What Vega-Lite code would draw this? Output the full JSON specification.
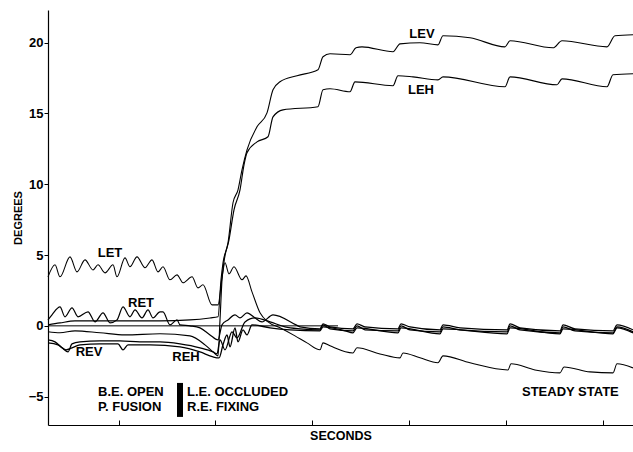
{
  "$schema": "https://vega.github.io/schema/vega-lite/v6.json",
  "width": 585,
  "height": 415,
  "autosize": {"type": "none"},
  "padding": {"left": 48, "top": 10, "right": 0, "bottom": 27},
  "background": "white",
  "config": {"view": {"stroke": null}, "font": "Liberation Sans"},
  "datasets": {
    "traces": [
      {"s":"ZERO","t":0,"deg":0},{"s":"ZERO","t":290,"deg":0},

      {"s":"LET","t":0,"deg":3.46},{"s":"LET","t":7,"deg":4.31},{"s":"LET","t":12,"deg":3.46},{"s":"LET","t":22,"deg":4.87},{"s":"LET","t":29,"deg":3.81},{"s":"LET","t":37,"deg":4.66},{"s":"LET","t":45,"deg":3.95},{"s":"LET","t":50,"deg":4.31},{"s":"LET","t":57,"deg":3.74},{"s":"LET","t":65,"deg":4.31},{"s":"LET","t":69,"deg":3.46},{"s":"LET","t":77,"deg":4.80},{"s":"LET","t":82,"deg":4.17},{"s":"LET","t":89,"deg":4.87},{"s":"LET","t":97,"deg":4.10},{"s":"LET","t":104,"deg":4.66},{"s":"LET","t":110,"deg":3.81},{"s":"LET","t":115,"deg":4.17},{"s":"LET","t":122,"deg":3.25},{"s":"LET","t":129,"deg":3.60},{"s":"LET","t":135,"deg":3.04},{"s":"LET","t":144,"deg":3.46},{"s":"LET","t":150,"deg":2.68},{"s":"LET","t":155,"deg":2.90},{"s":"LET","t":164,"deg":1.48},{"s":"LET","t":170,"deg":1.48},{"s":"LET","t":174,"deg":3.39},{"s":"LET","t":177,"deg":4.45},{"s":"LET","t":181,"deg":3.67},{"s":"LET","t":186,"deg":4.17},{"s":"LET","t":194,"deg":3.25},{"s":"LET","t":198,"deg":3.53},{"s":"LET","t":204,"deg":2.40},{"s":"LET","t":212,"deg":0.92},{"s":"LET","t":220,"deg":0.28},{"s":"LET","t":232,"deg":-0.14},{"s":"LET","t":247,"deg":-0.71},{"s":"LET","t":259,"deg":-1.20},{"s":"LET","t":272,"deg":-1.69},{"s":"LET","t":275,"deg":-1.20},{"s":"LET","t":282,"deg":-1.41},{"s":"LET","t":305,"deg":-1.91},{"s":"LET","t":309,"deg":-1.55},{"s":"LET","t":332,"deg":-1.98},{"s":"LET","t":352,"deg":-2.26},{"s":"LET","t":355,"deg":-1.91},{"s":"LET","t":372,"deg":-2.26},{"s":"LET","t":390,"deg":-2.61},{"s":"LET","t":395,"deg":-2.12},{"s":"LET","t":422,"deg":-2.61},{"s":"LET","t":460,"deg":-3.11},{"s":"LET","t":463,"deg":-2.68},{"s":"LET","t":487,"deg":-3.11},{"s":"LET","t":512,"deg":-3.32},{"s":"LET","t":516,"deg":-2.90},{"s":"LET","t":542,"deg":-3.25},{"s":"LET","t":565,"deg":-3.32},{"s":"LET","t":569,"deg":-2.68},{"s":"LET","t":585,"deg":-2.97},

      {"s":"LEV","t":0,"deg":0.07},{"s":"LEV","t":12,"deg":0.21},{"s":"LEV","t":27,"deg":0.35},{"s":"LEV","t":52,"deg":0.35},{"s":"LEV","t":82,"deg":0.35},{"s":"LEV","t":112,"deg":0.35},{"s":"LEV","t":142,"deg":0.42},{"s":"LEV","t":162,"deg":0.56},{"s":"LEV","t":170,"deg":0.64},{"s":"LEV","t":173,"deg":3.25},{"s":"LEV","t":175,"deg":4.45},{"s":"LEV","t":180,"deg":5.86},{"s":"LEV","t":185,"deg":8.69},{"s":"LEV","t":190,"deg":9.60},{"s":"LEV","t":194,"deg":11.02},{"s":"LEV","t":199,"deg":12.43},{"s":"LEV","t":209,"deg":14.05},{"s":"LEV","t":219,"deg":15.04},{"s":"LEV","t":225,"deg":16.67},{"s":"LEV","t":232,"deg":17.23},{"s":"LEV","t":249,"deg":17.66},{"s":"LEV","t":270,"deg":18.08},{"s":"LEV","t":275,"deg":19.00},{"s":"LEV","t":282,"deg":19.21},{"s":"LEV","t":302,"deg":19.14},{"s":"LEV","t":308,"deg":19.63},{"s":"LEV","t":314,"deg":19.70},{"s":"LEV","t":345,"deg":19.35},{"s":"LEV","t":352,"deg":19.91},{"s":"LEV","t":372,"deg":19.99},{"s":"LEV","t":390,"deg":19.84},{"s":"LEV","t":395,"deg":20.48},{"s":"LEV","t":422,"deg":20.34},{"s":"LEV","t":457,"deg":19.70},{"s":"LEV","t":462,"deg":20.13},{"s":"LEV","t":505,"deg":19.63},{"s":"LEV","t":514,"deg":20.13},{"s":"LEV","t":559,"deg":19.70},{"s":"LEV","t":567,"deg":20.48},{"s":"LEV","t":585,"deg":20.55},

      {"s":"LEH","t":0,"deg":-0.42},{"s":"LEH","t":12,"deg":-0.49},{"s":"LEH","t":27,"deg":-0.35},{"s":"LEH","t":52,"deg":-0.49},{"s":"LEH","t":77,"deg":-0.64},{"s":"LEH","t":112,"deg":-0.56},{"s":"LEH","t":142,"deg":-0.71},{"s":"LEH","t":157,"deg":-1.34},{"s":"LEH","t":165,"deg":-1.84},{"s":"LEH","t":170,"deg":-2.12},{"s":"LEH","t":172,"deg":0.42},{"s":"LEH","t":174,"deg":3.25},{"s":"LEH","t":176,"deg":4.52},{"s":"LEH","t":181,"deg":6.07},{"s":"LEH","t":186,"deg":8.19},{"s":"LEH","t":192,"deg":9.60},{"s":"LEH","t":196,"deg":11.37},{"s":"LEH","t":199,"deg":12.22},{"s":"LEH","t":209,"deg":12.99},{"s":"LEH","t":220,"deg":13.35},{"s":"LEH","t":225,"deg":14.76},{"s":"LEH","t":235,"deg":15.25},{"s":"LEH","t":270,"deg":15.47},{"s":"LEH","t":275,"deg":16.67},{"s":"LEH","t":282,"deg":16.74},{"s":"LEH","t":302,"deg":16.53},{"s":"LEH","t":307,"deg":17.23},{"s":"LEH","t":345,"deg":16.95},{"s":"LEH","t":350,"deg":17.66},{"s":"LEH","t":365,"deg":17.58},{"s":"LEH","t":390,"deg":17.37},{"s":"LEH","t":395,"deg":17.58},{"s":"LEH","t":457,"deg":16.88},{"s":"LEH","t":462,"deg":17.58},{"s":"LEH","t":509,"deg":17.02},{"s":"LEH","t":514,"deg":17.44},{"s":"LEH","t":559,"deg":16.88},{"s":"LEH","t":565,"deg":17.73},{"s":"LEH","t":585,"deg":17.80},

      {"s":"RET","t":0,"deg":0.42},{"s":"RET","t":4,"deg":0.78},{"s":"RET","t":12,"deg":1.34},{"s":"RET","t":17,"deg":0.64},{"s":"RET","t":24,"deg":1.27},{"s":"RET","t":30,"deg":0.64},{"s":"RET","t":40,"deg":0.99},{"s":"RET","t":47,"deg":0.28},{"s":"RET","t":55,"deg":0.92},{"s":"RET","t":62,"deg":0.21},{"s":"RET","t":69,"deg":0.42},{"s":"RET","t":75,"deg":1.34},{"s":"RET","t":82,"deg":0.64},{"s":"RET","t":87,"deg":1.13},{"s":"RET","t":94,"deg":0.56},{"s":"RET","t":100,"deg":1.13},{"s":"RET","t":105,"deg":0.56},{"s":"RET","t":112,"deg":0.99},{"s":"RET","t":115,"deg":0.99},{"s":"RET","t":122,"deg":0.07},{"s":"RET","t":129,"deg":0.42},{"s":"RET","t":132,"deg":0.07},{"s":"RET","t":142,"deg":0},{"s":"RET","t":152,"deg":-0.14},{"s":"RET","t":162,"deg":-0.64},{"s":"RET","t":170,"deg":-0.99},{"s":"RET","t":174,"deg":0.07},{"s":"RET","t":180,"deg":0.42},{"s":"RET","t":187,"deg":0.78},{"s":"RET","t":192,"deg":0.56},{"s":"RET","t":199,"deg":0.92},{"s":"RET","t":207,"deg":0.56},{"s":"RET","t":214,"deg":0.28},{"s":"RET","t":225,"deg":0.78},{"s":"RET","t":248,"deg":0.07},{"s":"RET","t":252,"deg":-0.07},{"s":"RET","t":272,"deg":-0.21},{"s":"RET","t":275,"deg":0.14},{"s":"RET","t":282,"deg":-0.07},{"s":"RET","t":305,"deg":-0.21},{"s":"RET","t":309,"deg":0.14},{"s":"RET","t":317,"deg":-0.07},{"s":"RET","t":350,"deg":-0.21},{"s":"RET","t":353,"deg":0.14},{"s":"RET","t":362,"deg":-0.07},{"s":"RET","t":392,"deg":-0.28},{"s":"RET","t":395,"deg":0.07},{"s":"RET","t":412,"deg":-0.14},{"s":"RET","t":459,"deg":-0.28},{"s":"RET","t":462,"deg":0.14},{"s":"RET","t":472,"deg":-0.14},{"s":"RET","t":512,"deg":-0.35},{"s":"RET","t":515,"deg":0.07},{"s":"RET","t":527,"deg":-0.21},{"s":"RET","t":565,"deg":-0.35},{"s":"RET","t":569,"deg":0.07},{"s":"RET","t":585,"deg":-0.28},

      {"s":"REV","t":0,"deg":-0.99},{"s":"REV","t":7,"deg":-1.13},{"s":"REV","t":14,"deg":-1.55},{"s":"REV","t":20,"deg":-1.84},{"s":"REV","t":24,"deg":-1.27},{"s":"REV","t":32,"deg":-1.13},{"s":"REV","t":52,"deg":-1.06},{"s":"REV","t":72,"deg":-1.06},{"s":"REV","t":92,"deg":-1.13},{"s":"REV","t":112,"deg":-1.13},{"s":"REV","t":132,"deg":-1.27},{"s":"REV","t":152,"deg":-1.55},{"s":"REV","t":165,"deg":-1.84},{"s":"REV","t":169,"deg":-1.98},{"s":"REV","t":172,"deg":-0.99},{"s":"REV","t":177,"deg":-1.69},{"s":"REV","t":184,"deg":-0.42},{"s":"REV","t":189,"deg":-0.85},{"s":"REV","t":197,"deg":0.28},{"s":"REV","t":207,"deg":0.56},{"s":"REV","t":222,"deg":0.28},{"s":"REV","t":237,"deg":-0.07},{"s":"REV","t":252,"deg":-0.21},{"s":"REV","t":272,"deg":-0.28},{"s":"REV","t":275,"deg":0.07},{"s":"REV","t":282,"deg":-0.21},{"s":"REV","t":305,"deg":-0.35},{"s":"REV","t":309,"deg":0},{"s":"REV","t":317,"deg":-0.28},{"s":"REV","t":350,"deg":-0.35},{"s":"REV","t":353,"deg":0},{"s":"REV","t":362,"deg":-0.28},{"s":"REV","t":392,"deg":-0.42},{"s":"REV","t":395,"deg":-0.07},{"s":"REV","t":412,"deg":-0.28},{"s":"REV","t":459,"deg":-0.42},{"s":"REV","t":462,"deg":0},{"s":"REV","t":472,"deg":-0.28},{"s":"REV","t":512,"deg":-0.49},{"s":"REV","t":515,"deg":-0.07},{"s":"REV","t":527,"deg":-0.35},{"s":"REV","t":565,"deg":-0.49},{"s":"REV","t":569,"deg":-0.07},{"s":"REV","t":585,"deg":-0.42},

      {"s":"REH","t":0,"deg":-1.20},{"s":"REH","t":10,"deg":-1.34},{"s":"REH","t":18,"deg":-1.69},{"s":"REH","t":24,"deg":-1.55},{"s":"REH","t":32,"deg":-1.34},{"s":"REH","t":52,"deg":-1.27},{"s":"REH","t":70,"deg":-1.27},{"s":"REH","t":75,"deg":-1.69},{"s":"REH","t":80,"deg":-1.34},{"s":"REH","t":102,"deg":-1.34},{"s":"REH","t":132,"deg":-1.48},{"s":"REH","t":152,"deg":-1.84},{"s":"REH","t":165,"deg":-2.19},{"s":"REH","t":171,"deg":-2.26},{"s":"REH","t":175,"deg":-1.34},{"s":"REH","t":179,"deg":-0.64},{"s":"REH","t":182,"deg":-1.48},{"s":"REH","t":187,"deg":-0.14},{"s":"REH","t":190,"deg":-1.13},{"s":"REH","t":195,"deg":-0.28},{"s":"REH","t":199,"deg":-0.64},{"s":"REH","t":204,"deg":0.07},{"s":"REH","t":222,"deg":-0.14},{"s":"REH","t":242,"deg":-0.28},{"s":"REH","t":272,"deg":-0.35},{"s":"REH","t":275,"deg":-0.07},{"s":"REH","t":297,"deg":-0.35},{"s":"REH","t":305,"deg":-0.49},{"s":"REH","t":309,"deg":-0.14},{"s":"REH","t":350,"deg":-0.49},{"s":"REH","t":353,"deg":-0.14},{"s":"REH","t":392,"deg":-0.56},{"s":"REH","t":395,"deg":-0.21},{"s":"REH","t":459,"deg":-0.56},{"s":"REH","t":462,"deg":-0.14},{"s":"REH","t":512,"deg":-0.56},{"s":"REH","t":515,"deg":-0.21},{"s":"REH","t":565,"deg":-0.56},{"s":"REH","t":569,"deg":-0.14},{"s":"REH","t":585,"deg":-0.49}
    ],
    "labels": [
      {"label":"LET","t":62,"deg":5.16,"align":"center"},
      {"label":"RET","t":93,"deg":1.62,"align":"center"},
      {"label":"REV","t":41,"deg":-1.84,"align":"center"},
      {"label":"REH","t":138,"deg":-2.19,"align":"center"},
      {"label":"LEV","t":374,"deg":20.62,"align":"center"},
      {"label":"LEH","t":373,"deg":16.67,"align":"center"},
      {"label":"B.E. OPEN","t":50,"deg":-4.66,"align":"left"},
      {"label":"P. FUSION","t":50,"deg":-5.72,"align":"left"},
      {"label":"L.E. OCCLUDED","t":139,"deg":-4.66,"align":"left"},
      {"label":"R.E. FIXING","t":139,"deg":-5.72,"align":"left"},
      {"label":"STEADY STATE","t":474,"deg":-4.66,"align":"left"}
    ],
    "bar": [{"t":132,"top":-4.03,"bottom":-6.43}]
  },
  "encoding": {
    "x": {"field":"t","type":"quantitative","scale":{"domain":[0,585],"nice":false,"zero":false},
      "axis":{"values":[70.5,167.3,264.1,360.9,457.7,554.5],"labels":false,"grid":false,"tickSize":-5,"tickColor":"black","domainColor":"black","domainWidth":1.2,"title":"SECONDS","titleFontSize":12.5,"titleFontWeight":"bold","titleColor":"black","titlePadding":4}},
    "y": {"field":"deg","type":"quantitative","scale":{"domain":[-7,22.3],"nice":false,"zero":false},
      "axis":{"values":[-5,0,5,10,15,20],"grid":false,"tickSize":4,"tickColor":"black","domainColor":"black","domainWidth":1.2,"labelFontSize":13,"labelFontWeight":"bold","labelColor":"black","labelPadding":1,"title":"DEGREES","titleFontSize":11,"titleFontWeight":"bold","titleColor":"black","titlePadding":5}}
  },
  "layer": [
    {
      "data": {"name":"traces"},
      "mark": {"type":"line","color":"black","interpolate":"monotone","strokeJoin":"round"},
      "encoding": {
        "detail": {"field":"s","type":"nominal"},
        "strokeWidth": {"field":"s","type":"nominal","scale":{"domain":["ZERO","LET","LEV","LEH","RET","REV","REH"],"range":[1,1.3,1.4,1.4,1.9,2.7,2.7]},"legend":null}
      }
    },
    {
      "data": {"name":"bar"},
      "mark": {"type":"rule","color":"black","strokeWidth":6},
      "encoding": {"y":{"field":"top","type":"quantitative"},"y2":{"field":"bottom"}}
    },
    {
      "data": {"name":"labels"},
      "transform": [{"filter":"datum.align == 'center'"}],
      "mark": {"type":"text","color":"black","fontSize":13,"fontWeight":"bold","baseline":"middle","align":"center"},
      "encoding": {"text":{"field":"label"}}
    },
    {
      "data": {"name":"labels"},
      "transform": [{"filter":"datum.align == 'left'"}],
      "mark": {"type":"text","color":"black","fontSize":13,"fontWeight":"bold","baseline":"middle","align":"left"},
      "encoding": {"text":{"field":"label"}}
    }
  ]
}
